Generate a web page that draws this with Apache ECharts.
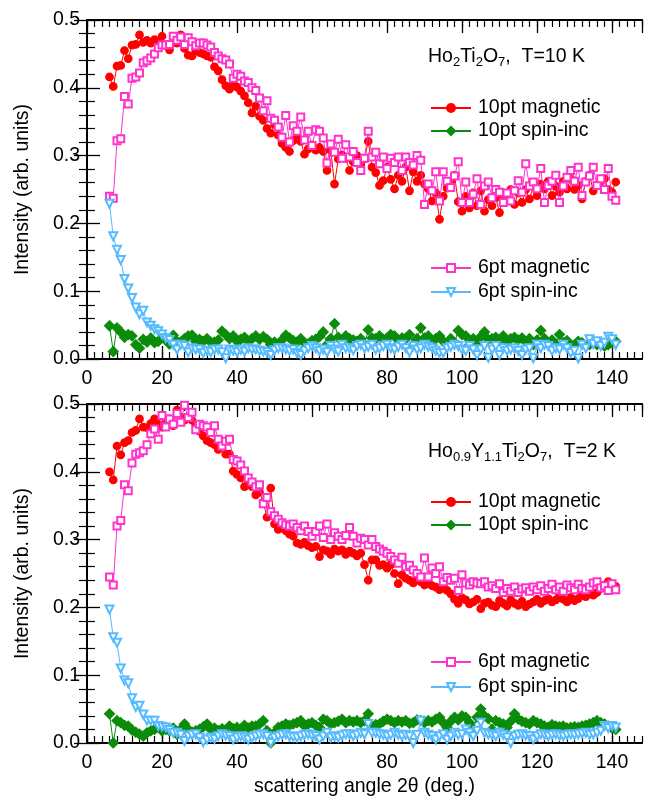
<!DOCTYPE html>
<html><head><meta charset="utf-8">
<script src="https://cdn.jsdelivr.net/npm/echarts@6/dist/echarts.min.js"></script>
<style>html,body{margin:0;padding:0;background:#fff}#c{width:648px;height:801px}</style>
</head><body><div id="c"></div>
<script>
// scattering angles (deg.)
const angles = [6,7,8,9,10,11,12,13,14,15,16,17,18,19,20,21,22,23,24,25,26,27,28,29,30,31,32,33,34,35,
36,37,38,39,40,41,42,43,44,45,46,47,48,49,50,51,52,53,54,55,56,57,58,59,60,61,62,63,64,65,
66,67,68,69,70,71,72,73,74,75,76,77,78,79,80,81,82,83,84,85,86,87,88,89,90,91,92,93,94,95,
96,97,98,99,100,101,102,103,104,105,106,107,108,109,110,111,112,113,114,115,116,117,118,119,120,121,122,123,124,125,
126,127,128,129,130,131,132,133,134,135,136,137,138,139,140,141];

// Top panel: Ho2Ti2O7, T=10 K
const topMag10 = [.416,.402,.432,.433,.455,.443,.463,.464,.478,.467,
.470,.466,.471,.468,.476,.462,.456,.467,.466,.478,
.458,.448,.447,.456,.452,.450,.447,.445,.431,.425,
.412,.403,.398,.408,.401,.395,.388,.378,.363,.373,
.358,.352,.340,.333,.346,.330,.318,.312,.306,.322,
.331,.321,.302,.310,.316,.308,.312,.306,.278,.308,
.258,.295,.301,.296,.278,.291,.300,.286,.295,.321,
.283,.275,.256,.263,.283,.265,.251,.271,.262,.283,
.248,.276,.262,.271,.258,.251,.233,.245,.206,.240,
.252,.262,.271,.232,.218,.240,.223,.245,.226,.248,
.218,.235,.226,.238,.216,.240,.238,.250,.228,.245,
.231,.250,.236,.255,.241,.258,.251,.262,.241,.255,
.246,.262,.251,.266,.250,.256,.236,.262,.271,.248,
.256,.262,.266,.250,.246,.261];
const topSpin10 = [.049,.011,.046,.040,.032,.036,.034,.021,.016,.029,
.025,.031,.024,.026,.031,.028,.022,.035,.026,.025,
.030,.034,.035,.026,.029,.026,.030,.025,.025,.028,
.041,.036,.030,.034,.026,.029,.032,.026,.030,.034,
.029,.033,.029,.021,.025,.020,.028,.035,.031,.027,
.025,.030,.024,.022,.027,.029,.033,.040,.021,.030,
.052,.032,.026,.034,.030,.028,.026,.030,.021,.043,
.031,.030,.034,.029,.031,.036,.034,.028,.031,.030,
.036,.021,.030,.046,.031,.034,.021,.030,.034,.026,
.021,.030,.024,.042,.036,.034,.021,.030,.024,.033,
.040,.029,.030,.032,.028,.034,.026,.030,.032,.028,
.031,.026,.030,.021,.028,.042,.030,.024,.028,.021,
.036,.024,.027,.019,.021,.026,.024,.020,.021,.025,
.021,.023,.019,.021,.024,.026];
const topMag6 = [.240,.237,.322,.325,.387,.376,.414,.416,.422,.437,
.440,.444,.450,.459,.463,.463,.464,.476,.470,.475,
.464,.474,.468,.462,.466,.466,.463,.460,.452,.447,
.443,.441,.435,.414,.420,.417,.410,.408,.400,.396,
.385,.366,.381,.355,.352,.342,.327,.359,.320,.344,
.336,.357,.323,.336,.315,.338,.336,.326,.289,.317,
.305,.324,.296,.316,.298,.306,.290,.278,.296,.336,
.298,.305,.288,.298,.281,.296,.290,.298,.278,.298,
.290,.286,.300,.293,.228,.258,.248,.276,.233,.276,
.262,.253,.270,.291,.231,.261,.231,.243,.266,.228,
.255,.261,.238,.250,.246,.231,.245,.233,.248,.263,
.246,.288,.255,.261,.251,.281,.231,.256,.262,.271,
.231,.255,.268,.278,.262,.283,.241,.261,.270,.283,
.256,.266,.250,.281,.240,.234];
const topSpin6 = [.229,.181,.161,.146,.118,.104,.090,.076,.066,.071,
.054,.049,.044,.041,.036,.031,.028,.021,.014,.021,
.019,.010,.016,.014,.014,.009,.012,.010,.014,.014,
.010,.001,.014,.012,.010,.014,.011,.016,.014,.014,
.012,.011,.010,.006,.013,.016,.016,.014,.012,.014,
.009,.006,.012,.016,.019,.016,.012,.014,.010,.019,
.014,.011,.021,.016,.016,.013,.019,.021,.016,.018,
.021,.014,.016,.019,.021,.016,.014,.018,.021,.016,
.010,.019,.014,.016,.021,.018,.016,.012,.009,.009,
.016,.018,.021,.019,.014,.012,.019,.014,.006,.014,
.019,.002,.014,.019,.006,.016,.012,.014,.016,.012,
.006,.014,.016,.001,.021,.016,.021,.019,.012,.016,
.014,.021,.016,.009,.012,.001,.021,.016,.029,.022,
.026,.019,.024,.033,.029,.021];

// Bottom panel: Ho0.9Y1.1Ti2O7, T=2 K
const botMag10 = [.400,.388,.438,.425,.443,.446,.458,.461,.478,.466,
.465,.471,.478,.470,.466,.472,.478,.468,.491,.481,
.476,.481,.476,.470,.460,.453,.446,.443,.440,.433,
.443,.426,.426,.401,.396,.391,.378,.385,.378,.366,
.370,.355,.333,.376,.323,.315,.318,.313,.308,.305,
.295,.293,.296,.291,.288,.290,.275,.285,.283,.278,
.286,.283,.285,.278,.283,.280,.276,.280,.263,.240,
.270,.270,.262,.263,.258,.263,.250,.235,.248,.243,
.240,.236,.243,.238,.233,.236,.232,.230,.226,.232,
.225,.220,.212,.206,.214,.211,.205,.208,.212,.198,
.206,.208,.203,.201,.210,.206,.202,.211,.206,.203,
.209,.201,.205,.208,.212,.206,.210,.213,.208,.211,
.218,.212,.208,.215,.210,.213,.218,.216,.220,.218,
.222,.228,.233,.238,.228,.231];
const botSpin10 = [.043,.000,.033,.030,.026,.025,.019,.016,.013,.010,
.015,.018,.020,.023,.018,.020,.018,.022,.013,.020,
.028,.020,.016,.018,.020,.024,.028,.020,.022,.018,
.021,.019,.025,.021,.023,.020,.026,.022,.025,.025,
.028,.033,.018,.000,.015,.023,.025,.028,.026,.028,
.030,.033,.025,.028,.030,.026,.023,.035,.033,.028,
.030,.032,.035,.030,.033,.031,.033,.030,.033,.043,
.025,.027,.028,.032,.035,.033,.030,.033,.031,.033,
.029,.030,.034,.033,.030,.033,.031,.035,.038,.030,
.023,.032,.038,.034,.040,.038,.030,.020,.038,.050,
.040,.036,.020,.033,.030,.028,.023,.032,.043,.035,
.032,.030,.028,.033,.030,.028,.025,.023,.027,.025,
.024,.025,.022,.023,.024,.023,.025,.026,.028,.030,
.033,.030,.028,.025,.022,.020];
const botMag6 = [.245,.233,.320,.328,.381,.372,.413,.426,.428,.431,
.440,.456,.463,.448,.483,.466,.478,.470,.486,.473,
.498,.480,.488,.462,.470,.468,.466,.458,.468,.448,
.438,.445,.448,.418,.416,.410,.401,.391,.385,.378,
.381,.353,.362,.341,.335,.330,.325,.322,.320,.323,
.318,.313,.320,.312,.305,.312,.320,.303,.323,.300,
.310,.305,.300,.306,.318,.305,.295,.302,.300,.292,
.300,.290,.286,.283,.280,.275,.270,.265,.274,.260,
.262,.255,.250,.245,.273,.245,.258,.250,.260,.238,
.244,.240,.243,.225,.248,.236,.233,.238,.236,.235,
.238,.230,.232,.228,.235,.222,.228,.224,.230,.222,
.227,.229,.224,.230,.226,.232,.224,.228,.234,.226,
.230,.224,.233,.229,.226,.234,.228,.226,.230,.236,
.238,.229,.232,.225,.235,.226];
const botSpin6 = [.197,.156,.148,.110,.092,.088,.066,.053,.055,.042,
.033,.033,.033,.025,.024,.023,.019,.015,.015,.012,
.003,.010,.012,.013,.008,.001,.005,.008,.006,.010,
.013,.011,.010,.005,.008,.010,.008,.005,.008,.010,
.012,.013,.010,.000,.008,.010,.012,.013,.010,.009,
.008,.010,.012,.013,.011,.010,.005,.010,.015,.008,
.010,.008,.011,.013,.013,.010,.012,.015,.013,.028,
.015,.015,.013,.012,.010,.012,.015,.012,.010,.012,
.010,.000,.012,.033,.015,.012,.010,.005,.010,.013,
.005,.010,.015,.012,.013,.020,.015,.010,.018,.030,
.015,.013,.012,.010,.015,.012,.008,.000,.010,.012,
.013,.011,.010,.005,.010,.013,.012,.010,.012,.013,
.011,.010,.012,.013,.012,.013,.014,.015,.012,.013,
.015,.018,.025,.022,.025,.023];

const xMajorTicks = [0, 20, 40, 60, 80, 100, 120, 140];
const seriesNames = ['10pt magnetic', '10pt spin-inc', '6pt magnetic', '6pt spin-inc'];

const FONT = "'Liberation Sans', Arial, Helvetica, sans-serif";
const FS = 19.5;
const pair = arr => angles.map((a, i) => [a, arr[i]]);

const styles = [
  {symbol: 'circle', symbolSize: 7.5, color: '#ff0000', rotate: 0},
  {symbol: 'diamond', symbolSize: 10, color: '#0b8c0b', rotate: 0},
  {symbol: 'emptyRect', symbolSize: 7, color: '#ff33cc', rotate: 0},
  {symbol: 'emptyTriangle', symbolSize: 8, color: '#55bbff', rotate: 180}
];

const axisLine = {lineStyle: {color: '#000', width: 1.8}};
function xAxesFor(g, withName) {
  const base = {gridIndex: g, type: 'value', min: 0, max: 148, splitLine: {show: false}, axisLine: axisLine};
  const major = {inside: true, length: 13, lineStyle: {color: '#000', width: 1.3}};
  const minor = {inside: true, length: 7, lineStyle: {color: '#000', width: 1.2}};
  return [
    Object.assign({}, base, {position: 'bottom', interval: 20, axisTick: major,
      axisLabel: {showMaxLabel: false, margin: 10, fontSize: FS, color: '#000', fontFamily: FONT,
        formatter: v => xMajorTicks.indexOf(v) >= 0 ? String(v) : ''},
      name: withName ? 'scattering angle 2\u03b8 (deg.)' : '', nameLocation: 'middle', nameGap: 34,
      nameTextStyle: {fontSize: FS, color: '#000', fontFamily: FONT}}),
    Object.assign({}, base, {position: 'bottom', interval: 2, axisTick: minor, axisLabel: {show: false}}),
    Object.assign({}, base, {position: 'top', interval: 20, axisTick: major, axisLabel: {show: false}}),
    Object.assign({}, base, {position: 'top', interval: 2, axisTick: minor, axisLabel: {show: false}})
  ];
}
function yAxesFor(g) {
  const base = {gridIndex: g, type: 'value', min: 0, max: 0.5, interval: 0.1, splitLine: {show: false},
    axisLine: axisLine, axisTick: {inside: true, length: 13, lineStyle: {color: '#000', width: 1.3}},
    minorTick: {show: true, splitNumber: 5, length: 8, lineStyle: {color: '#000', width: 1.2}}};
  return [
    Object.assign({}, base, {position: 'left',
      axisLabel: {margin: 7, fontSize: FS, color: '#000', fontFamily: FONT, formatter: v => v.toFixed(1)},
      name: 'Intensity (arb. units)', nameLocation: 'middle', nameGap: 54,
      nameTextStyle: {fontSize: FS, color: '#000', fontFamily: FONT}}),
    Object.assign({}, base, {position: 'right', axisLabel: {show: false}})
  ];
}

const panels = [
  [topMag10, topSpin10, topMag6, topSpin6],
  [botMag10, botSpin10, botMag6, botSpin6]
];
const series = [];
panels.forEach((arrs, g) => {
  arrs.forEach((arr, k) => {
    const s = styles[k];
    series.push({
      name: seriesNames[k], type: 'line', xAxisIndex: g * 4, yAxisIndex: g * 2,
      data: pair(arr), symbol: s.symbol, symbolSize: s.symbolSize, symbolRotate: s.rotate,
      showSymbol: true, clip: false,
      lineStyle: {color: s.color, width: 1},
      itemStyle: {color: s.color, borderColor: s.color, borderWidth: 1.2},
      emphasis: {disabled: true}, z: 2 + k
    });
  });
});

function legendAt(top, names, gap) {
  return {left: 430, top: top, orient: 'vertical', padding: 0, itemGap: gap, itemWidth: 40, itemHeight: 10,
    selectedMode: false, data: names,
    textStyle: {fontSize: FS, color: '#000', fontFamily: FONT, padding: [0, 0, 0, 2]}};
}

const richStyle = {
  n: {fontSize: FS, fontWeight: 'normal', color: '#000', fontFamily: FONT},
  s: {fontSize: 13, fontWeight: 'normal', color: '#000', fontFamily: FONT, padding: [11, 0, 0, 0]}
};

const option = {
  animation: false,
  backgroundColor: '#fff',
  title: [
    {left: 428, top: 45, padding: 0, text: '{n|Ho}{s|2}{n|Ti}{s|2}{n|O}{s|7}{n|,  T=10 K}',
      textStyle: {fontWeight: 'normal', rich: richStyle}},
    {left: 428, top: 440, padding: 0, text: '{n|Ho}{s|0.9}{n|Y}{s|1.1}{n|Ti}{s|2}{n|O}{s|7}{n|,  T=2 K}',
      textStyle: {fontWeight: 'normal', rich: richStyle}}
  ],
  legend: [
    legendAt(98, ['10pt magnetic', '10pt spin-inc'], 3),
    legendAt(258, ['6pt magnetic', '6pt spin-inc'], 4),
    legendAt(492, ['10pt magnetic', '10pt spin-inc'], 3),
    legendAt(652, ['6pt magnetic', '6pt spin-inc'], 5)
  ],
  grid: [
    {left: 87, right: 6, top: 20, height: 339},
    {left: 87, right: 6, top: 404, height: 339}
  ],
  xAxis: xAxesFor(0, false).concat(xAxesFor(1, true)),
  yAxis: yAxesFor(0).concat(yAxesFor(1)),
  series: series
};

const chart = echarts.init(document.getElementById('c'), null, {renderer: 'canvas'});
chart.setOption(option);
</script>
</body></html>
